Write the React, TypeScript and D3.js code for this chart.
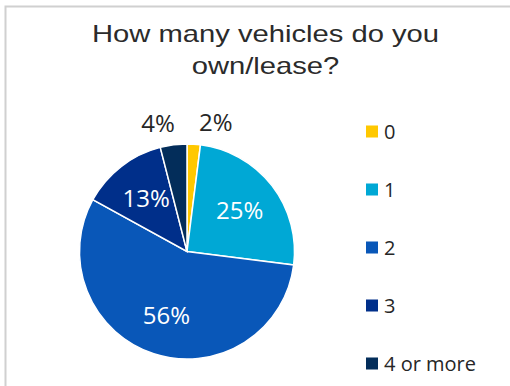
import React from "react";
import * as d3 from "d3";

const categories = ["0", "1", "2", "3", "4 or more"];
const values = [2, 25, 56, 13, 4];
const colors = ["#FFC800", "#00A8D5", "#0957B8", "#002F8A", "#032D5A"];
const titleLines = ["How many vehicles do you", "own/lease?"];

const W = 510;
const H = 386;

export default function App() {
  const cx = 187;
  const cy = 251.5;
  const r = 107.5;
  const pie = d3.pie<number>().sort(null).value((d) => d)(values);
  const arc = d3.arc<d3.PieArcDatum<number>>().innerRadius(0).outerRadius(r);
  const inLabel = d3.arc<d3.PieArcDatum<number>>().innerRadius(r * 0.62).outerRadius(r * 0.62);
  const outLabel = d3.arc<d3.PieArcDatum<number>>().innerRadius(r * 1.2).outerRadius(r * 1.2);
  const total = d3.sum(values);
  const legendY = d3.scalePoint<string>().domain(categories).range([131.5, 363.5]);
  const font = "'Open Sans', sans-serif";

  return (
    <svg width={W} height={H} style={{ position: "absolute", left: 0, top: 0 }} xmlns="http://www.w3.org/2000/svg">
      <rect x={0} y={0} width={W} height={H} fill="#fff" />
      <rect x={5.5} y={6.5} width={W + 20} height={H + 20} fill="none" stroke="#D0D0D0" strokeWidth={2} />
      {titleLines.map((t, i) => (
        <text
          key={i}
          transform={`translate(265.5,${41.7 + i * 32}) scale(1.27,1)`}
          textAnchor="middle"
          fontFamily="'Liberation Sans', Arial, sans-serif"
          fontSize={23}
          fill="#2B2B2B"
        >
          {t}
        </text>
      ))}
      <g transform={`translate(${cx},${cy})`}>
        {pie.map((d, i) => (
          <path key={i} d={arc(d) || ""} fill={colors[i]} stroke="#fff" strokeWidth={1.5} />
        ))}
        {pie.map((d, i) => {
          const pct = Math.round((d.value / total) * 100);
          const small = pct < 5;
          const [x, y] = small ? outLabel.centroid(d) : inLabel.centroid(d);
          const mid = (d.startAngle + d.endAngle) / 2;
          const anchor = small ? (mid > Math.PI ? "end" : "start") : "middle";
          return (
            <text
              key={"l" + i}
              x={x + (small ? 4 : 0)}
              y={y}
              dy="0.36em"
              textAnchor={anchor}
              fontFamily={font}
              fontSize={24}
              fill={small ? "#262626" : "#fff"}
            >
              {pct}%
            </text>
          );
        })}
      </g>
      {categories.map((c, i) => (
        <g key={c}>
          <rect x={366} y={(legendY(c) as number) - 6} width={12} height={12} fill={colors[i]} />
          <text x={384} y={(legendY(c) as number) + 7} fontFamily={font} fontSize={20} fill="#262626">
            {c}
          </text>
        </g>
      ))}
    </svg>
  );
}
